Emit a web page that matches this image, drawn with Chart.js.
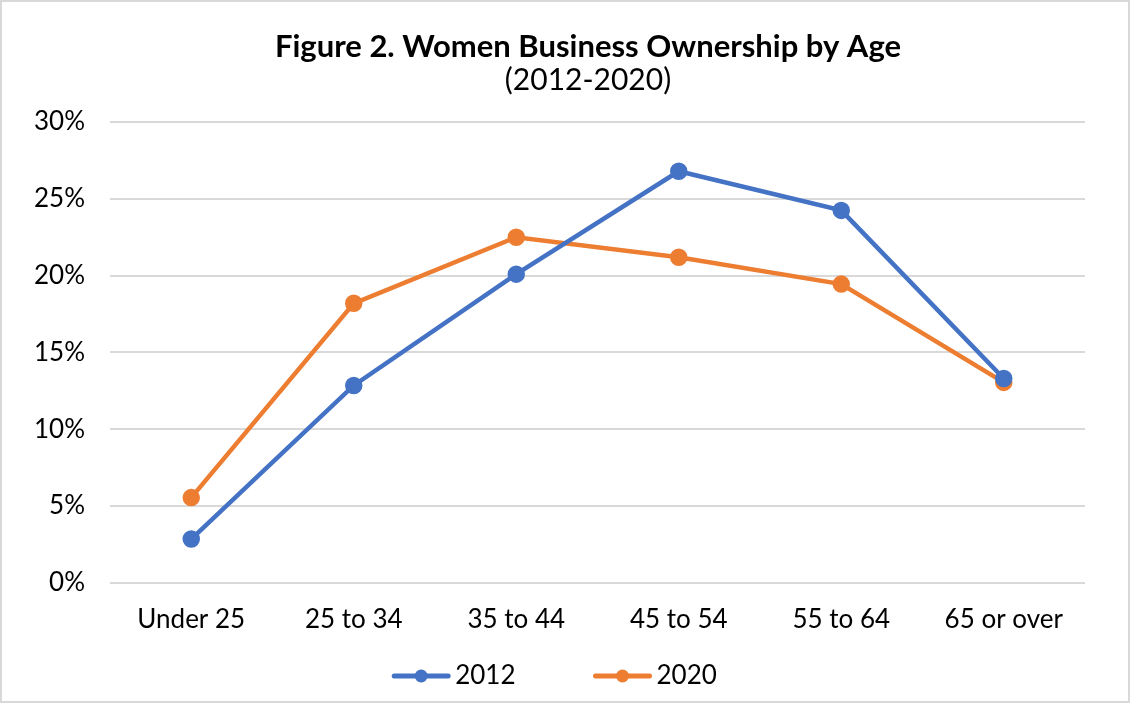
<!DOCTYPE html>
<html lang="en">
<head>
  <meta charset="UTF-8">
  <title>Women Business Ownership by Age</title>
  <script src="https://cdn.jsdelivr.net/npm/chart.js"></script>
  <style>
    html, body { margin: 0; padding: 0; background: #fff; }
    #wrap { position: relative; width: 1130px; height: 703px; }
  </style>
</head>
<body>
  <div id="wrap"><canvas id="chart" width="1130" height="703"></canvas></div>
  <script>
    // data
    const ageGroups = ['Under 25', '25 to 34', '35 to 44', '45 to 54', '55 to 64', '65 or over'];
    const share2012 = [2.85, 12.85, 20.1, 26.8, 24.25, 13.3];
    const share2020 = [5.55, 18.2, 22.5, 21.2, 19.45, 13.05];
    const yTicks = [0, 5, 10, 15, 20, 25, 30];

    const BLUE = '#4472C4';
    const ORANGE = '#ED7D31';
    const FONT = 'Lato, "Liberation Sans", sans-serif';

    // white background + thin grey frame round the whole chart
    const frame = {
      id: 'frame',
      beforeDraw(chart) {
        const ctx = chart.ctx;
        ctx.save();
        ctx.fillStyle = '#fff';
        ctx.fillRect(0, 0, chart.width, chart.height);
        ctx.strokeStyle = '#d9d9d9';
        ctx.lineWidth = 2;
        ctx.strokeRect(1, 1, chart.width - 2, chart.height - 2);
        ctx.restore();
      }
    };

    // Excel style legend: line with a dot, then the label
    const lineLegend = {
      id: 'lineLegend',
      afterDraw(chart) {
        const ctx = chart.ctx;
        const y = 676, swW = 60, gap = 4, itemGap = 77;
        ctx.save();
        ctx.font = '26px ' + FONT;
        ctx.textBaseline = 'middle';
        const items = chart.data.datasets.map(ds => ({
          text: ds.label, color: ds.borderColor, w: ctx.measureText(ds.label).width
        }));
        let total = items.reduce((s, it) => s + swW + gap + it.w, 0) + itemGap * (items.length - 1);
        let x = 554 - total / 2;
        items.forEach(it => {
          ctx.strokeStyle = it.color;
          ctx.lineWidth = 5;
          ctx.lineCap = 'round';
          ctx.beginPath(); ctx.moveTo(x + 3, y); ctx.lineTo(x + swW - 3, y); ctx.stroke();
          ctx.fillStyle = it.color;
          ctx.beginPath(); ctx.arc(x + swW / 2, y, 6.5, 0, Math.PI * 2); ctx.fill();
          ctx.fillStyle = '#000';
          ctx.fillText(it.text, x + swW + gap, y);
          x += swW + gap + it.w + itemGap;
        });
        ctx.restore();
      }
    };

    new Chart(document.getElementById('chart'), {
      type: 'line',
      data: {
        labels: ageGroups,
        datasets: [
          { label: '2012', data: share2012, borderColor: BLUE, backgroundColor: BLUE,
            borderWidth: 4.5, pointRadius: 6.5, pointHoverRadius: 6.5, tension: 0 },
          { label: '2020', data: share2020, borderColor: ORANGE, backgroundColor: ORANGE,
            borderWidth: 4.5, pointRadius: 6.5, pointHoverRadius: 6.5, tension: 0 }
        ]
      },
      options: {
        responsive: false,
        animation: false,
        // right padding is negative so the title centres where Excel put it
        layout: { padding: { left: 30, right: -16, top: 0, bottom: 47 } },
        plugins: {
          title: {
            display: true,
            text: 'Figure 2. Women Business Ownership by Age',
            color: '#000',
            font: { family: FONT, size: 31, weight: 'bold', lineHeight: 1.1 },
            padding: { top: 30, bottom: 0 }
          },
          subtitle: {
            display: true,
            text: '(2012-2020)',
            color: '#000',
            font: { family: FONT, size: 30, lineHeight: 1.0 },
            padding: { top: 1, bottom: 27 }
          },
          legend: { display: false },
          tooltip: { enabled: false }
        },
        scales: {
          x: {
            offset: true,
            grid: { display: false, drawTicks: false },
            border: { display: false },
            ticks: { color: '#000', font: { family: FONT, size: 26 }, padding: 21 }
          },
          y: {
            min: 0, max: 30,
            afterFit(scale) { scale.width = 80; },
            afterBuildTicks(scale) { scale.ticks = yTicks.map(v => ({ value: v })); },
            grid: { color: '#d9d9d9', lineWidth: 2, drawTicks: false },
            border: { display: false },
            ticks: {
              color: '#000',
              font: { family: FONT, size: 26 },
              padding: 25,
              callback: v => v + '%'
            }
          },
          // empty right axis, only keeps the plot clear of the right edge
          y2: {
            position: 'right',
            afterFit(scale) { scale.width = 61; },
            grid: { display: false, drawTicks: false },
            border: { display: false },
            ticks: { display: false }
          }
        }
      },
      plugins: [frame, lineLegend]
    });
  </script>
</body>
</html>
